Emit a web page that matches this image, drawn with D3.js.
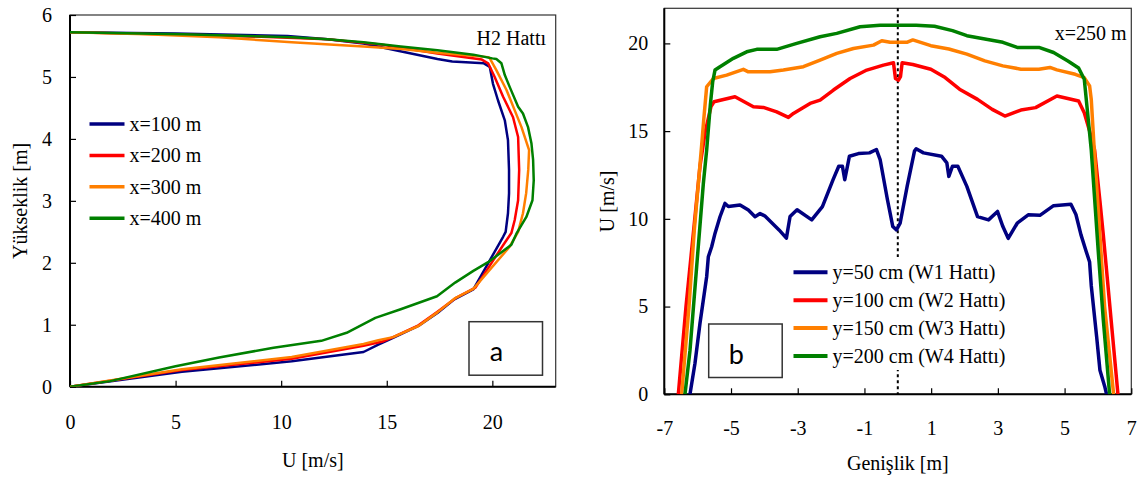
<!DOCTYPE html>
<html>
<head>
<meta charset="utf-8">
<script src="https://cdn.jsdelivr.net/npm/d3@7"></script>
<style>
  body { margin: 0; background: #fff; }
  svg { display: block; }
</style>
</head>
<body>
<svg id="chart" width="1137" height="478"></svg>
<script>
// ---- Panel a: vertical velocity profiles along H2 line, [U (m/s), height (m)] ----
const profileX100 = [[0,5.72],[5,5.70],[10.3,5.66],[12.2,5.61],[13.9,5.54],[15.7,5.41],[17.4,5.29],[18.1,5.25],[19.6,5.22],[19.88,5.16],[20.03,4.89],[20.27,4.62],[20.59,4.30],[20.74,3.98],[20.79,3.50],[20.79,3.12],[20.74,2.80],[20.63,2.50],[20.51,2.42],[19.1,1.57],[18.2,1.41],[17.4,1.19],[16.5,0.98],[15.3,0.79],[14.6,0.68],[13.9,0.56],[10.5,0.41],[5.3,0.24],[0,0]];
const profileX200 = [[0,5.72],[7.1,5.67],[12.2,5.61],[14.8,5.52],[17.4,5.38],[19.5,5.28],[19.8,5.22],[20.11,5.0],[20.51,4.68],[20.98,4.35],[21.22,4.03],[21.27,3.50],[21.22,3.01],[21.06,2.69],[20.9,2.48],[20.5,2.28],[19.2,1.60],[18.3,1.44],[17.4,1.21],[16.5,0.99],[15.3,0.80],[14.8,0.73],[13.9,0.66],[10.5,0.45],[5.3,0.27],[0,0]];
const profileX300 = [[0,5.72],[3.6,5.69],[7.06,5.64],[10.5,5.56],[13.9,5.49],[15.7,5.45],[17.4,5.39],[19.8,5.32],[19.88,5.30],[20.19,5.11],[20.67,4.79],[21.06,4.46],[21.38,4.19],[21.74,3.82],[21.7,3.50],[21.6,3.12],[21.45,2.80],[21.22,2.50],[20.82,2.26],[19.1,1.58],[18.2,1.42],[17.4,1.20],[16.5,0.98],[15.3,0.80],[14.6,0.75],[13.9,0.69],[10.5,0.48],[5.3,0.28],[0,0]];
const profileX400 = [[0,5.72],[5.34,5.69],[10.5,5.64],[12.2,5.61],[13.9,5.56],[15.66,5.49],[17.4,5.43],[19.1,5.36],[20.0,5.30],[20.19,5.29],[20.43,5.22],[20.59,5.03],[20.82,4.84],[21.22,4.52],[21.45,4.41],[21.69,4.19],[21.85,3.93],[21.93,3.66],[21.96,3.33],[21.9,3.01],[21.61,2.74],[21.14,2.47],[20.9,2.29],[19.8,2.01],[19.1,1.87],[18.24,1.68],[17.38,1.46],[15.66,1.25],[14.46,1.11],[13.1,0.87],[11.9,0.74],[9.64,0.63],[7.06,0.47],[5.0,0.33],[1.9,0.09],[0,0]];
const profileLabels = ["x=100 m", "x=200 m", "x=300 m", "x=400 m"];
const aTicksU = [0, 5, 10, 15, 20];
const aTicksH = [0, 1, 2, 3, 4, 5, 6];

// ---- Panel b: lateral velocity distributions at x=250 m, [width (m), U (m/s)] ----
const lineW1 = [[-6.23,0],[-6.08,1.77],[-5.93,4.05],[-5.73,6.7],[-5.68,7.84],[-5.58,8.41],[-5.48,9.17],[-5.33,10.12],[-5.18,10.88],[-5.08,10.7],[-4.73,10.79],[-4.48,10.5],[-4.28,10.12],[-4.13,10.3],[-3.99,10.17],[-3.56,9.37],[-3.34,8.9],[-3.23,10.13],[-3.02,10.52],[-2.58,9.94],[-2.26,10.7],[-1.94,12.23],[-1.77,13.0],[-1.66,13.0],[-1.59,12.23],[-1.45,13.57],[-1.18,13.72],[-0.85,13.76],[-0.64,13.95],[-0.53,13.38],[-0.31,11.09],[-0.15,9.56],[-0.04,9.37],[0.07,9.75],[0.28,11.85],[0.5,13.86],[0.55,13.99],[0.77,13.76],[1.31,13.57],[1.47,13.19],[1.53,12.42],[1.64,13.0],[1.8,13.0],[2.07,11.85],[2.39,10.13],[2.72,9.94],[2.99,10.42],[3.15,9.56],[3.31,8.89],[3.58,9.75],[3.91,10.23],[4.26,10.2],[4.67,10.75],[5.19,10.83],[5.34,10.25],[5.49,9.1],[5.65,8.13],[5.75,7.54],[5.8,6.19],[5.96,3.3],[6.06,1.37],[6.21,0.4],[6.26,0]];
const lineW2 = [[-6.58,0],[-6.35,5.0],[-6.13,9.17],[-5.93,13.0],[-5.78,14.9],[-5.6,16.4],[-5.51,16.67],[-4.88,16.96],[-4.33,16.39],[-4.03,16.35],[-3.63,16.1],[-3.28,15.78],[-3.13,16.01],[-2.63,16.58],[-2.33,16.77],[-1.93,17.34],[-1.43,18.0],[-0.93,18.48],[-0.43,18.76],[-0.13,18.9],[-0.07,18.0],[0.02,17.9],[0.08,18.1],[0.13,18.9],[0.45,18.8],[0.99,18.53],[1.42,18.05],[1.85,17.39],[2.39,16.81],[2.83,16.24],[3.21,15.86],[3.69,16.2],[4.13,16.34],[4.77,17.0],[5.42,16.72],[5.59,16.05],[5.75,15.0],[5.9,13.92],[6.06,11.0],[6.16,9.1],[6.6,0]];
const lineW3 = [[-6.48,0],[-6.26,5.0],[-6.1,9.37],[-5.88,14.2],[-5.82,15.6],[-5.73,17.53],[-5.53,18.0],[-5.13,18.19],[-4.63,18.52],[-4.48,18.38],[-3.83,18.38],[-3.43,18.48],[-2.83,18.67],[-2.33,19.05],[-1.83,19.43],[-1.33,19.71],[-0.73,19.9],[-0.48,20.15],[-0.23,20.06],[0.27,20.06],[0.45,20.2],[0.99,19.87],[1.53,19.68],[2.07,19.39],[2.61,19.0],[3.15,18.72],[3.69,18.53],[4.23,18.53],[4.56,18.63],[4.77,18.49],[5.32,18.24],[5.59,18.05],[5.75,17.58],[5.8,16.8],[5.89,13.92],[6.2,5.0],[6.47,0]];
const lineW4 = [[-6.38,0],[-6.23,2.5],[-6.03,7.27],[-5.83,12.0],[-5.73,13.92],[-5.62,16.5],[-5.55,17.8],[-5.48,18.48],[-5.33,18.67],[-4.93,19.15],[-4.53,19.52],[-4.23,19.66],[-3.63,19.66],[-3.03,20.0],[-2.33,20.38],[-1.83,20.57],[-1.13,20.95],[-0.53,21.04],[0.02,21.04],[0.55,21.04],[1.1,20.98],[1.64,20.73],[2.07,20.44],[2.61,20.25],[3.15,20.06],[3.58,19.77],[4.23,19.77],[4.67,19.48],[5.1,19.0],[5.42,18.6],[5.59,17.96],[5.8,13.92],[6.01,8.13],[6.16,4.26],[6.35,0]];
const widthLabels = ["y=50 cm (W1 Hattı)", "y=100 cm (W2 Hattı)", "y=150 cm (W3 Hattı)", "y=200 cm (W4 Hattı)"];
const bTicksX = [-7, -5, -3, -1, 1, 3, 5, 7];
const bTicksU = [0, 5, 10, 15, 20];

const seriesColors = ["#000080", "#ff0000", "#ff7f00", "#008000"];
const SERIF = '"Liberation Serif", "Times New Roman", serif';
const SANS = 'Lato, "Open Sans", sans-serif';

const svg = d3.select("#chart");

function drawPanel(o) {
  const g = svg.append("g");
  const x = d3.scaleLinear().domain(o.xDomain).range([o.left, o.right]);
  const y = d3.scaleLinear().domain(o.yDomain).range([o.bottom, o.top]);

  const clipId = "clip-" + o.id;
  svg.append("clipPath").attr("id", clipId)
    .append("rect").attr("x", o.left).attr("y", o.top)
    .attr("width", o.right - o.left).attr("height", o.bottom - o.top);

  // frame
  g.append("rect").attr("x", o.left).attr("y", o.top)
    .attr("width", o.right - o.left).attr("height", o.bottom - o.top)
    .attr("fill", "none").attr("stroke", "#333").attr("stroke-width", 1.2);

  // axes with inward ticks
  const ax = g.append("g").attr("transform", `translate(0,${o.bottom})`)
    .call(d3.axisBottom(x).tickValues(o.xTicks).tickFormat(d => String(d))
      .tickSizeInner(-6).tickSizeOuter(0).tickPadding(o.xPad));
  const ay = g.append("g").attr("transform", `translate(${o.left},0)`)
    .call(d3.axisLeft(y).tickValues(o.yTicks).tickFormat(d => String(d))
      .tickSizeInner(-6).tickSizeOuter(0).tickPadding(o.yPad));
  [ax, ay].forEach(a => {
    a.select(".domain").remove();
    a.attr("font-family", SERIF).attr("font-size", 20);
    a.selectAll(".tick line").attr("stroke", "#000").attr("stroke-width", 1.2);
    a.selectAll(".tick text").attr("fill", "#000");
  });
  g.append("line").attr("x1", o.left).attr("x2", o.right).attr("y1", o.bottom).attr("y2", o.bottom)
    .attr("stroke", "#000").attr("stroke-width", 2);
  g.append("line").attr("x1", o.left).attr("x2", o.left).attr("y1", o.top).attr("y2", o.bottom)
    .attr("stroke", "#000").attr("stroke-width", 2);

  if (o.extra) o.extra(g, x, y);

  const line = d3.line().x(d => x(d[0])).y(d => y(d[1]));
  g.append("g").attr("clip-path", `url(#${clipId})`)
    .selectAll("path").data(o.series).join("path")
    .attr("d", line).attr("fill", "none")
    .attr("stroke", (d, i) => seriesColors[i])
    .attr("stroke-width", o.lineWidth)
    .attr("stroke-linejoin", "round");

  // axis titles
  g.append("text").attr("x", (o.left + o.right) / 2).attr("y", o.xTitleY)
    .attr("text-anchor", "middle").attr("font-family", SERIF).attr("font-size", 20)
    .text(o.xTitle);
  g.append("text").attr("transform", `translate(${o.yTitleX},${(o.top + o.bottom) / 2}) rotate(-90)`)
    .attr("text-anchor", "middle").attr("font-family", SERIF).attr("font-size", 20)
    .text(o.yTitle);

  // legend
  const lg = g.append("g");
  if (o.legendBg) {
    lg.append("rect").attr("x", o.legendBg[0]).attr("y", o.legendBg[1])
      .attr("width", o.legendBg[2]).attr("height", o.legendBg[3]).attr("fill", "#fff");
  }
  o.labels.forEach((lab, i) => {
    const ly = o.legendY + i * o.legendStep;
    lg.append("line").attr("x1", o.legendX).attr("x2", o.legendX + o.legendLen)
      .attr("y1", ly).attr("y2", ly).attr("stroke", seriesColors[i]).attr("stroke-width", o.legendStroke);
    lg.append("text").attr("x", o.legendX + o.legendLen + 5).attr("y", ly).attr("dy", "0.35em")
      .attr("font-family", SERIF).attr("font-size", 20).text(lab);
  });

  // corner note
  g.append("text").attr("x", o.noteX).attr("y", o.noteY).attr("text-anchor", "end")
    .attr("font-family", SERIF).attr("font-size", 20).text(o.note);

  // panel letter box
  g.append("rect").attr("x", o.boxX).attr("y", o.boxY).attr("width", 73.5).attr("height", 53.5)
    .attr("fill", "#fff").attr("stroke", "#333").attr("stroke-width", 1.5);
  g.append("text").attr("x", o.boxX + 27.5).attr("y", o.boxY + o.letterBase)
    .attr("text-anchor", "middle").attr("font-family", SANS).attr("font-size", 27)
    .text(o.letter);
}

drawPanel({
  id: "a",
  xDomain: [0, 23], yDomain: [0, 6],
  left: 70, right: 555.7, top: 15, bottom: 386.7,
  xTicks: aTicksU, yTicks: aTicksH, xPad: 28, yPad: 18,
  series: [profileX100, profileX200, profileX300, profileX400],
  lineWidth: 2.5,
  xTitle: "U [m/s]", xTitleY: 467,
  yTitle: "Yükseklik [m]", yTitleX: 27,
  labels: profileLabels, legendX: 89.5, legendLen: 35, legendY: 124, legendStep: 31.4, legendStroke: 3.5,
  note: "H2 Hattı", noteX: 546, noteY: 45,
  boxX: 469, boxY: 321.7, letter: "a", letterBase: 39
});

drawPanel({
  id: "b",
  xDomain: [-7, 7], yDomain: [0, 22],
  left: 664.3, right: 1131.3, top: 8.3, bottom: 394.3,
  xTicks: bTicksX, yTicks: bTicksU, xPad: 26.5, yPad: 16,
  series: [lineW1, lineW2, lineW3, lineW4],
  lineWidth: 3.5,
  xTitle: "Genişlik [m]", xTitleY: 470,
  yTitle: "U [m/s]", yTitleX: 614,
  labels: widthLabels, legendX: 793.5, legendLen: 34, legendY: 272.3, legendStep: 27.9, legendStroke: 4,
  legendBg: [790, 257, 250, 113],
  note: "x=250 m", noteX: 1126.7, noteY: 39.5,
  boxX: 708.7, boxY: 324, letter: "b", letterBase: 39.5,
  extra: (g, x, y) => {
    // centreline of the channel
    g.append("line").attr("x1", x(0)).attr("x2", x(0)).attr("y1", y(22)).attr("y2", y(0))
      .attr("stroke", "#000").attr("stroke-width", 2).attr("stroke-dasharray", "3,3");
  }
});
</script>
</body>
</html>
